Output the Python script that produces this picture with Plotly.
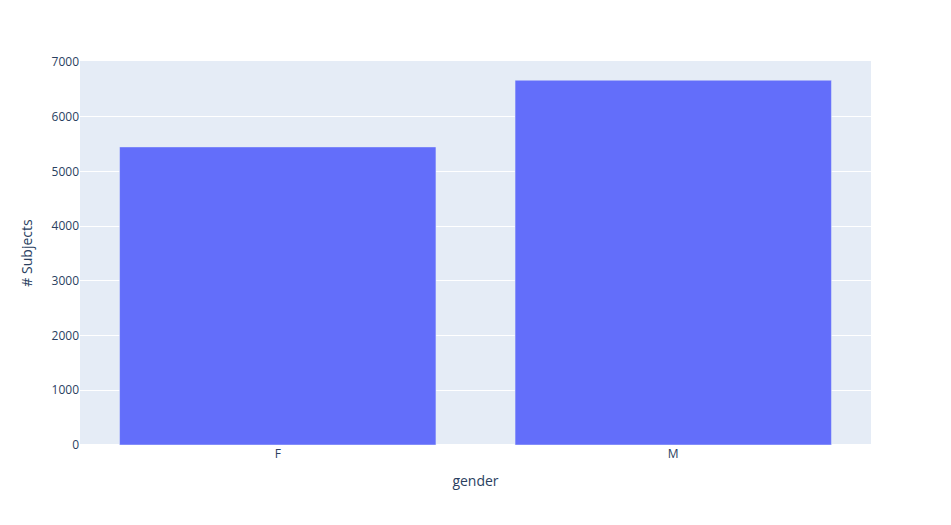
import plotly.graph_objects as go

# subjects per gender
gender = ["F", "M"]
n_subjects = [5447, 6666]

fig = go.Figure(data=[go.Bar(x=gender, y=n_subjects, marker_color="#636efa")])

fig.update_layout(
    width=951,
    height=525,
    margin=dict(l=80, r=80, t=61, b=80),
    xaxis_title="gender",
    yaxis_title="# Subjects",
)

# drop the default page margin so the figure sits at the top-left corner
fig.write_html("out.html",
               config={"displayModeBar": False},
               post_script="document.body.style.margin = '0';")
